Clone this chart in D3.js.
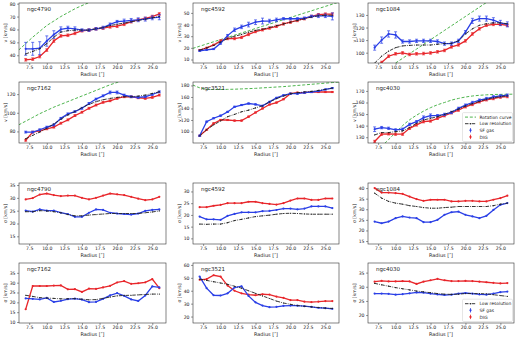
<!DOCTYPE html>
<html>
<head>
<meta charset="utf-8">
<script src="https://cdn.jsdelivr.net/npm/d3@7"></script>
<style>
  body { margin: 0; background: #fff; }
  text { font-family: "DejaVu Sans", sans-serif; fill: #222; }
</style>
</head>
<body>
<svg id="chart" width="520" height="338"></svg>
<script>
// radii of the rings (arcsec)
const radii = [7, 8, 9, 10, 11, 12, 13, 14, 15, 16, 17, 18, 19, 20, 21, 22, 23, 24, 25, 26];
const rotRadii = [6, 7, 8, 9, 10, 11, 12, 13, 14, 15, 16, 17, 18, 19, 20, 21, 22, 23, 24, 25, 26, 27];
const xTicks = [7.5, 10, 12.5, 15, 17.5, 20, 22.5, 25];
const galaxies = ["ngc4790", "ngc4592", "ngc1084", "ngc7162", "ngc3521", "ngc4030"];

// --- rotation velocity (km/s)
const v4790_sf  = [45, 45, 45.5, 51, 56, 60, 61, 60.5, 59.5, 59.5, 60.5, 61.5, 64, 66, 66.5, 67, 67.5, 68, 69, 69.5];
const v4790_low = [41, 43, 45, 49, 54, 58, 59, 59.5, 59.5, 59.5, 60.5, 61.5, 63, 64, 65, 66, 67, 68, 69, 70];
const v4790_dig = [36.5, 37, 39, 44, 51, 55, 55.5, 57, 59, 59.5, 60.5, 61, 62, 62.5, 64, 66, 67.5, 68.5, 70, 72];
const v4790_rot = [44, 49, 54, 58.5, 63, 66.5, 70, 73, 76, 78.5, 80.8, 83, 85, 87, 89, 90.5, 92, 93.5, 95, 96.5, 97.5, 98.5];
const v4790_sfErr = [5, 5, 5, 4, 3, 2, 1.5, 1.5, 1, 1, 1, 1, 1, 1, 1.5, 1.5, 1.5, 1.5, 1.5, 2];

const v4592_sf  = [17.5, 18.3, 19, 24, 30.5, 35.5, 38, 40, 42, 43, 43, 44, 45, 45, 45, 45.5, 47, 47.5, 47.5, 47];
const v4592_low = [18, 20, 22, 25, 28, 30, 31.5, 33.5, 35, 36, 37.5, 39, 40.5, 42, 43.5, 45, 46.5, 47.5, 48, 48];
const v4592_dig = [18, 20, 22.5, 26, 28, 28, 29, 31.5, 34, 35.5, 37, 38.5, 40.5, 42, 43.5, 45, 47, 48.5, 49, 49];
const v4592_rot = [19.5, 21.4, 23.3, 25.2, 27.1, 29, 30.9, 32.8, 34.7, 36.6, 38.5, 40.4, 42.3, 44.2, 46.1, 48, 49.9, 51.8, 53.7, 55.6, 57.5, 59.4];
const v4592_sfErr = [0.5, 0.5, 0.5, 1, 1, 1.5, 1.5, 2, 2, 2.5, 1.5, 1.5, 1, 1, 1, 1, 1, 1.5, 1.5, 3];

const v1084_sf  = [104, 110, 114.9, 114.1, 108.9, 108.9, 109.4, 109.4, 109.4, 108.9, 107.2, 107.2, 109.4, 116.3, 125.3, 127.1, 127.1, 125.8, 123.7, 122.5];
const v1084_low = [91.7, 97.2, 101.2, 104, 105.4, 105.8, 106.1, 106.1, 106.1, 106.7, 107.2, 107.5, 109.4, 114.9, 119, 121.8, 123, 123.7, 123.7, 123];
const v1084_dig = [88.9, 92.2, 97.2, 99.1, 99.8, 98.6, 99.1, 99.3, 99.8, 100.7, 101.8, 104.6, 106.2, 109.4, 114.9, 119, 121.8, 122.5, 122.5, 121.8];
const v1084_rot = [77, 80.7, 84.4, 88.1, 91.8, 95.5, 99.2, 102.9, 106.6, 110.3, 114, 117.7, 121.4, 125.1, 128.8, 132.5, 136.2, 139.9, 143.6, 147.3, 151, 154.7];
const v1084_sfErr = [2, 2.5, 2.5, 2.5, 1.3, 1.3, 1.3, 1.3, 1.3, 1.3, 1.3, 1.3, 1.3, 1.3, 2, 2, 2, 2, 2, 2];

const v7162_sf  = [79.3, 79.3, 81.8, 84.6, 87, 94, 98.8, 101.3, 104.8, 110, 114.7, 118.2, 121.8, 121.8, 119, 117.2, 116.5, 117.2, 119.6, 122.5];
const v7162_low = [72.2, 75.8, 79.3, 83.5, 88, 93, 97.7, 101.3, 105.5, 109, 111.9, 114, 115.4, 116.5, 117.2, 117.2, 117.9, 119, 120.7, 122.5];
const v7162_dig = [70.5, 79.3, 80.7, 82.8, 84.6, 88.8, 92.4, 97, 100.6, 104.8, 108.3, 111.2, 112.9, 115.4, 117.2, 117.2, 116.1, 115.4, 116.5, 119];
const v7162_rot = [87, 91, 95, 99, 102.5, 106, 109, 112, 115, 118, 121, 124, 127, 130, 132.5, 135, 137.5, 140, 142, 144, 146, 148];
const v7162_sfErr = [1, 1, 1, 1, 1, 1, 1, 1, 1, 1, 1, 1, 1.5, 1.5, 1, 1, 1, 1, 1, 1];

const v3521_sf  = [92.6, 117, 123, 127.4, 134, 143, 146, 148.6, 147, 144.6, 151.4, 158.3, 162.9, 165.7, 165.7, 167.4, 168.6, 170.3, 173, 175.4];
const v3521_low = [92.6, 103, 111.4, 118.3, 125.7, 129.7, 134.3, 137, 141, 144.6, 151.4, 157, 161.7, 165.7, 167.4, 168.6, 169.7, 171.4, 173, 175.4];
const v3521_dig = [92.6, 103, 114, 120, 120, 118.9, 118.9, 125.7, 133, 140, 146.9, 150.3, 156, 165.7, 167.4, 167.4, 168.6, 168.6, 168.6, 168.6];
const v3521_rot = [181, 176, 173.5, 173, 173, 173.2, 173.5, 174, 174.5, 175, 175.8, 176.5, 177.3, 178, 179, 180, 181, 182, 183, 184, 185, 186];
const v3521_sfErr = [1, 1, 1, 1, 1, 1, 1, 1, 1, 1, 1, 1, 1, 1, 1, 1, 1, 1, 1, 1];

const v4030_sf  = [136.9, 138.3, 137.7, 136.3, 136.9, 141.1, 143.4, 146.9, 148.6, 148.6, 149.7, 151.4, 154.9, 157.7, 160, 162, 163.4, 164.9, 165.7, 166.3];
const v4030_low = [132, 134, 134, 134.9, 135.4, 138.3, 142, 144.9, 146.3, 147.7, 149.7, 152, 154.3, 157, 159, 161, 162.9, 164, 165.1, 165.7];
const v4030_dig = [126.3, 132.6, 132.9, 132.6, 132.6, 137.7, 140.6, 143.4, 144, 146.3, 148.6, 151.1, 153.4, 156.3, 158.3, 160.6, 162.3, 163.4, 164.6, 165.1];
const v4030_rot = [110, 116, 122, 128, 134, 140, 145, 149, 152.5, 155.5, 158, 160, 162, 163.5, 164.7, 165.6, 166.2, 166.6, 166.9, 167, 167.1, 167.2];
const v4030_sfErr = [2, 1, 1, 1, 1, 1, 1, 1.5, 1.5, 1, 1, 1, 1, 1, 1, 1, 1, 1, 1, 1];

// --- velocity dispersion (km/s)
const s4790_sf  = [25, 24.6, 25.5, 25, 25, 24.2, 23.7, 22.6, 22.6, 24.2, 25.5, 25.3, 24.2, 23.9, 23.7, 23.5, 23.9, 24.9, 25.3, 25.5];
const s4790_low = [24.6, 24.6, 25, 24.9, 24.6, 24.2, 23.5, 23, 23, 23.3, 23.5, 23.7, 23.9, 23.9, 23.9, 23.9, 23.9, 24.2, 24.5, 24.9];
const s4790_dig = [29.4, 29.9, 31.3, 31.7, 31.1, 30.7, 30.9, 30.9, 30, 29.4, 30, 30.9, 31.7, 31.4, 31.1, 30.4, 29.7, 29.1, 29.4, 30.4];

const s4592_sf  = [19.3, 18.1, 18.1, 17.9, 19.6, 20.4, 21.1, 21.1, 21.1, 21.6, 21.7, 22.1, 22.7, 22.7, 22.4, 22.7, 23.6, 23.6, 23.6, 22.9];
const s4592_low = [16.1, 16, 16.1, 16.1, 16.7, 17.6, 18.1, 18.7, 19.3, 19.6, 19.9, 20.3, 20.6, 20.7, 20.6, 20.4, 20.3, 20.3, 20.3, 20.3];
const s4592_dig = [23.3, 23.3, 23.9, 24.3, 25, 25, 25, 25.6, 25.6, 25, 24.7, 24.4, 25, 26.1, 27, 27, 26.4, 26.4, 27, 27];

const s1084_sf  = [24.2, 23.4, 24.2, 25.8, 26.6, 26.1, 25.8, 23.9, 23.9, 25, 27.4, 28.6, 28.9, 27.4, 26.6, 25.8, 26.9, 29.7, 32.1, 32.9];
const s1084_low = [37.6, 35.3, 33.7, 32.9, 32.4, 31.7, 31.3, 30.8, 30.5, 30.5, 30.8, 31, 31.3, 31.3, 31.3, 31.3, 31.3, 31.7, 32.4, 32.9];
const s1084_dig = [40, 37.9, 37.9, 37.6, 37.3, 36, 34.8, 34, 34.5, 34.5, 34.5, 33.7, 33.7, 34, 34, 33.7, 33.7, 34.5, 35.3, 36.4];

const s7162_sf  = [22, 21.8, 21.5, 22.3, 20.2, 20.8, 21.6, 21.9, 21.4, 20.1, 20.2, 21.8, 23.5, 24.7, 23.3, 21.5, 20.7, 23.5, 28.1, 27.6];
const s7162_low = [23.6, 23, 22.4, 22.2, 22, 21.8, 21.8, 21.9, 21.6, 21.3, 21.4, 22, 22.7, 23.3, 23.5, 23.6, 23.8, 24, 24.2, 24.2];
const s7162_dig = [16.5, 28.3, 28.3, 28.3, 28.5, 28.6, 26.6, 26.7, 25.3, 27, 26.8, 27.6, 28.4, 30.1, 30.8, 29.4, 29.7, 30.2, 31.8, 27.2];

const s3521_sf  = [51, 42, 36.5, 36.3, 38, 42.5, 43.5, 36, 31, 28.5, 27.3, 27.5, 28.3, 28.5, 28.4, 28, 27.5, 26.8, 26.5, 26];
const s3521_low = [49, 48, 47, 46, 45, 43.5, 42, 40, 38, 36, 34, 32, 30.5, 29.5, 28.5, 28, 27.5, 27, 26.5, 26.3];
const s3521_dig = [48.5, 49, 52, 51, 44, 40, 38, 37, 36.5, 37.3, 37, 35.5, 34.5, 32.8, 32.8, 31.5, 31.2, 31.5, 32, 32];

const s4030_sf  = [27.6, 27.6, 27.5, 27.2, 27.4, 27.7, 28, 27.9, 27.6, 27.3, 27.1, 27.2, 27.6, 27.8, 27.6, 27.3, 27.2, 27.6, 28.1, 28.3];
const s4030_low = [31.2, 30.7, 30.2, 29.7, 29.3, 28.9, 28.5, 28.2, 27.9, 27.6, 27.4, 27.3, 27.4, 27.6, 27.6, 27.6, 27.5, 27.2, 26.9, 26.6];
const s4030_dig = [31.8, 32.1, 31.9, 31.9, 32, 31.9, 31, 31.8, 32.3, 32.8, 32.3, 32, 32, 32.1, 32, 31.8, 31.6, 31.4, 31.2, 31.3];

// y ranges and ticks of each panel, row by row
const yDomains = [
  [34, 80.5], [7, 58.5], [91.8, 139.5],
  [67.6, 133], [80, 186], [125, 177.7],
  [12, 35.8], [7.6, 33.6], [13.6, 42.4],
  [9.5, 40], [15, 61.5], [17.2, 38.4]
];
const yTicks = [
  [40, 50, 60, 70, 80], [10, 20, 30, 40, 50], [100, 110, 120, 130],
  [80, 100, 120], [100, 120, 140, 160, 180], [130, 140, 150, 160, 170],
  [15, 20, 25, 30, 35], [10, 15, 20, 25, 30], [15, 20, 25, 30, 35, 40],
  [10, 15, 20, 25, 30, 35], [20, 30, 40, 50, 60], [20, 25, 30, 35]
];

const sfSeries  = [v4790_sf, v4592_sf, v1084_sf, v7162_sf, v3521_sf, v4030_sf, s4790_sf, s4592_sf, s1084_sf, s7162_sf, s3521_sf, s4030_sf];
const lowSeries = [v4790_low, v4592_low, v1084_low, v7162_low, v3521_low, v4030_low, s4790_low, s4592_low, s1084_low, s7162_low, s3521_low, s4030_low];
const digSeries = [v4790_dig, v4592_dig, v1084_dig, v7162_dig, v3521_dig, v4030_dig, s4790_dig, s4592_dig, s1084_dig, s7162_dig, s3521_dig, s4030_dig];
const rotSeries = [v4790_rot, v4592_rot, v1084_rot, v7162_rot, v3521_rot, v4030_rot];
const sfErrors  = [v4790_sfErr, v4592_sfErr, v1084_sfErr, v7162_sfErr, v3521_sfErr, v4030_sfErr];

const colX = [[19, 166], [193, 339], [368, 514]];
const rowY = [[3, 63], [82, 143], [183, 244], [263, 323]];

const BLUE = "#2a3fe6", RED = "#e8262b", GREEN = "#3aab3a", BLACK = "#222";

const svg = d3.select("#chart");

for (let i = 0; i < 12; i++) {
  const row = Math.floor(i / 3), col = i % 3;
  const isVel = row < 2;
  const [x0, x1] = colX[col], [y0, y1] = rowY[row];

  const x = d3.scaleLinear().domain([6.05, 26.95]).range([x0, x1]);
  const y = d3.scaleLinear().domain(yDomains[i]).range([y1, y0]);

  const g = svg.append("g");
  const clipId = "clip" + i;
  g.append("clipPath").attr("id", clipId)
    .append("rect").attr("x", x0).attr("y", y0).attr("width", x1 - x0).attr("height", y1 - y0);

  // axes
  g.append("g").attr("transform", `translate(0,${y1})`)
    .call(d3.axisBottom(x).tickValues(xTicks).tickFormat(d3.format(".1f")).tickSize(2).tickPadding(1.2))
    .call(a => a.select(".domain").remove())
    .call(a => a.selectAll("text").attr("font-size", 4.6).attr("fill", "#333"))
    .call(a => a.selectAll("line").attr("stroke", "#333").attr("stroke-width", 0.5));
  g.append("g").attr("transform", `translate(${x0},0)`)
    .call(d3.axisLeft(y).tickValues(yTicks[i]).tickSize(2).tickPadding(1.5))
    .call(a => a.select(".domain").remove())
    .call(a => a.selectAll("text").attr("font-size", 4.6).attr("fill", "#333"))
    .call(a => a.selectAll("line").attr("stroke", "#333").attr("stroke-width", 0.5));

  g.append("text").attr("x", (x0 + x1) / 2).attr("y", y1 + 12.8)
    .attr("text-anchor", "middle").attr("font-size", 5).text("Radius [\u2033]");
  g.append("text")
    .attr("transform", `translate(${x0 - 12.5},${(y0 + y1) / 2}) rotate(-90)`)
    .attr("text-anchor", "middle").attr("font-size", 4.6)
    .text(isVel ? "v [km/s]" : "\u03c3 [km/s]");

  const plot = g.append("g").attr("clip-path", `url(#${clipId})`);
  const line = d3.line().x(d => x(d[0])).y(d => y(d[1]));

  if (isVel) {
    const rot = rotRadii.map((r, k) => [r, rotSeries[i][k]]);
    plot.append("path").datum(rot)
      .attr("d", d3.line().x(d => x(d[0])).y(d => y(d[1])).curve(d3.curveMonotoneX))
      .attr("fill", "none").attr("stroke", GREEN).attr("stroke-width", 0.9)
      .attr("stroke-dasharray", "3,1.8");
  }

  const drawSeries = (vals, color, errs) => {
    const pts = radii.map((r, k) => [r, vals[k], errs ? errs[k] : 0]);
    plot.append("path").datum(pts).attr("d", line)
      .attr("fill", "none").attr("stroke", color).attr("stroke-width", 1.3);
    if (errs) {
      plot.append("g").selectAll("path").data(pts).join("path")
        .attr("d", d => `M${x(d[0])},${y(d[1] - d[2])}V${y(d[1] + d[2])}` +
          `M${x(d[0]) - 1.5},${y(d[1] - d[2])}h3M${x(d[0]) - 1.5},${y(d[1] + d[2])}h3`)
        .attr("stroke", color).attr("stroke-width", 0.7).attr("fill", "none");
    }
    plot.append("g").selectAll("circle").data(pts).join("circle")
      .attr("cx", d => x(d[0])).attr("cy", d => y(d[1])).attr("r", 1.1).attr("fill", color);
  };

  // DIG
  drawSeries(digSeries[i], RED, isVel ? sfErrors[i].map(e => Math.min(e, 1)) : null);
  // SF gas
  drawSeries(sfSeries[i], BLUE, isVel ? sfErrors[i] : null);

  // low resolution
  const low = radii.map((r, k) => [r, lowSeries[i][k]]);
  plot.append("path").datum(low).attr("d", line)
    .attr("fill", "none").attr("stroke", BLACK).attr("stroke-width", 0.9)
    .attr("stroke-dasharray", "3.5,1.2,0.8,1.2");
  plot.append("g").selectAll("circle").data(low).join("circle")
    .attr("cx", d => x(d[0])).attr("cy", d => y(d[1])).attr("r", 0.6).attr("fill", BLACK);

  // frame
  g.append("rect").attr("x", x0).attr("y", y0).attr("width", x1 - x0).attr("height", y1 - y0)
    .attr("fill", "none").attr("stroke", "#333").attr("stroke-width", 0.6);

  g.append("text").attr("x", x0 + 8).attr("y", y0 + 7.5)
    .attr("font-size", 5.5).text(galaxies[i % 6]);

  // legends on the right column panels of rows 2 and 4
  if (i === 5 || i === 11) {
    const items = i === 5
      ? [["Rotation curve", "rot"], ["Low resolution", "low"], ["SF gas", "sf"], ["DIG", "dig"]]
      : [["Low resolution", "low"], ["SF gas", "sf"], ["DIG", "dig"]];
    const step = 6.6;
    const lh = items.length * step + 2.5;
    const lw = 50;
    const lx = x1 - lw - 1.5, ly = y1 - lh - 1.5;
    const leg = g.append("g");
    leg.append("rect").attr("x", lx).attr("y", ly).attr("width", lw).attr("height", lh)
      .attr("rx", 1.2).attr("fill", "#fff").attr("fill-opacity", 0.85)
      .attr("stroke", "#ccc").attr("stroke-width", 0.5);
    items.forEach(([label, kind], k) => {
      const cy = ly + 4.5 + k * step;
      const sx = lx + 2.5;
      if (kind === "rot") {
        leg.append("line").attr("x1", sx).attr("x2", sx + 11).attr("y1", cy).attr("y2", cy)
          .attr("stroke", GREEN).attr("stroke-width", 0.9).attr("stroke-dasharray", "3,1.8");
      } else if (kind === "low") {
        leg.append("line").attr("x1", sx).attr("x2", sx + 11).attr("y1", cy).attr("y2", cy)
          .attr("stroke", BLACK).attr("stroke-width", 0.9).attr("stroke-dasharray", "3.5,1.2,0.8,1.2");
        leg.append("circle").attr("cx", sx + 5.5).attr("cy", cy).attr("r", 0.7).attr("fill", BLACK);
      } else {
        const c = kind === "sf" ? BLUE : RED;
        leg.append("line").attr("x1", sx + 5.5).attr("x2", sx + 5.5).attr("y1", cy - 2.2).attr("y2", cy + 2.2)
          .attr("stroke", c).attr("stroke-width", 0.8);
        leg.append("circle").attr("cx", sx + 5.5).attr("cy", cy).attr("r", 1.1).attr("fill", c);
      }
      leg.append("text").attr("x", sx + 14.5).attr("y", cy + 1.6).attr("font-size", 4.4).text(label);
    });
  }
}
</script>
</body>
</html>
